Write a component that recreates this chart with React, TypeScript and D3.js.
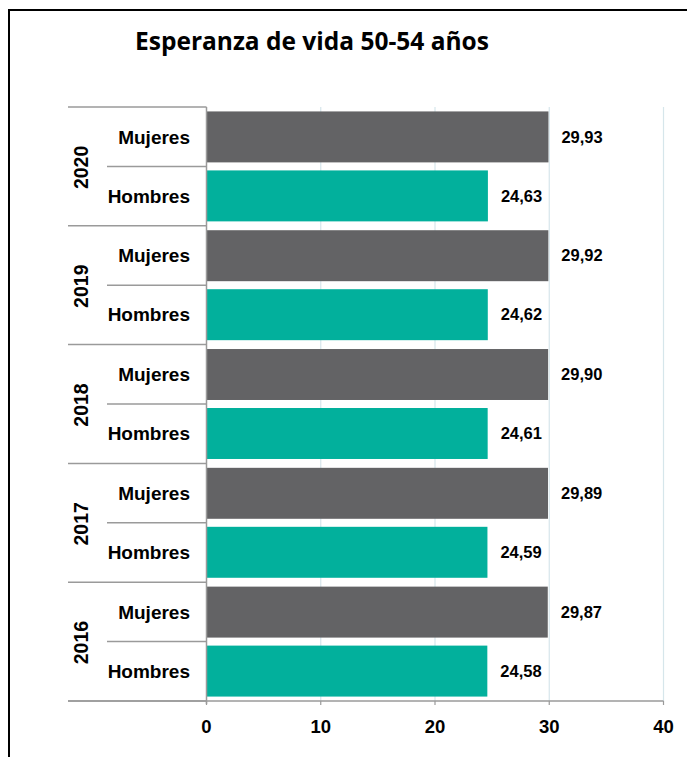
import { useRef, useEffect } from 'react';
import * as d3 from 'd3';

const years = ['2020', '2019', '2018', '2017', '2016'];
const sexes = ['Mujeres', 'Hombres'];
const mujeres = [29.93, 29.92, 29.9, 29.89, 29.87];
const hombres = [24.63, 24.62, 24.61, 24.59, 24.58];
const ticks = [0, 10, 20, 30, 40];

const colors: Record<string, string> = { Mujeres: '#636365', Hombres: '#02b09c' };

export default function App() {
  const svgRef = useRef<SVGSVGElement>(null);

  useEffect(() => {
    const w = 687;
    const h = 757;
    const svg = d3.select(svgRef.current).attr('width', w).attr('height', h);
    svg.selectAll('*').remove();

    const font = "'Liberation Sans', Arial, sans-serif";

    // frame (only top and left edges are inside the picture)
    svg
      .append('path')
      .attr('d', `M9,${h + 5} V10 H${w + 5}`)
      .attr('fill', 'none')
      .attr('stroke', '#000')
      .attr('stroke-width', 2);

    svg
      .append('text')
      .attr('x', 312)
      .attr('y', 50)
      .attr('text-anchor', 'middle')
      .style('font-family', "'Open Sans', sans-serif")
      .style('font-weight', 700)
      .style('font-size', '24.5px')
      .text('Esperanza de vida 50-54 años');

    // scales
    const x = d3.scaleLinear().domain([0, 40]).range([206.5, 663.5]);
    const yGroup = d3.scaleBand().domain(years).range([107, 701]);
    const ySub = d3
      .scaleBand()
      .domain(sexes)
      .range([0, yGroup.bandwidth()])
      .paddingInner(0.136)
      .paddingOuter(0.075);

    // gridlines
    svg
      .append('g')
      .selectAll('line')
      .data(ticks.slice(1))
      .enter()
      .append('line')
      .attr('x1', (d) => x(d))
      .attr('x2', (d) => x(d))
      .attr('y1', 107)
      .attr('y2', 701)
      .attr('stroke', '#d6e6eb')
      .attr('stroke-width', 1.2);

    const rows = years.flatMap((yr, i) => [
      { year: yr, sex: 'Mujeres', value: mujeres[i] },
      { year: yr, sex: 'Hombres', value: hombres[i] },
    ]);

    // bars
    svg
      .append('g')
      .selectAll('rect')
      .data(rows)
      .enter()
      .append('rect')
      .attr('x', x(0))
      .attr('y', (d) => yGroup(d.year)! + ySub(d.sex)!)
      .attr('width', (d) => x(d.value) - x(0))
      .attr('height', ySub.bandwidth())
      .attr('fill', (d) => colors[d.sex]);

    // value labels
    svg
      .append('g')
      .selectAll('text')
      .data(rows)
      .enter()
      .append('text')
      .attr('x', (d) => x(d.value) + 13)
      .attr('y', (d) => yGroup(d.year)! + ySub(d.sex)! + ySub.bandwidth() / 2)
      .attr('dy', '0.35em')
      .style('font-family', font)
      .style('font-weight', 700)
      .style('font-size', '16.5px')
      .text((d) => d.value.toFixed(2).replace('.', ','));

    // category axis: separators and labels
    const axisColor = '#9a9a9a';
    const cat = svg.append('g');
    const bounds = years.map((yr) => yGroup(yr)!).concat([701]);
    cat
      .selectAll('line.group')
      .data(bounds)
      .enter()
      .append('line')
      .attr('x1', 68)
      .attr('x2', x(0))
      .attr('y1', (d) => d)
      .attr('y2', (d) => d)
      .attr('stroke', axisColor)
      .attr('stroke-width', 1.5);
    cat
      .selectAll('line.sub')
      .data(years)
      .enter()
      .append('line')
      .attr('x1', 107)
      .attr('x2', x(0))
      .attr('y1', (d) => yGroup(d)! + yGroup.bandwidth() / 2)
      .attr('y2', (d) => yGroup(d)! + yGroup.bandwidth() / 2)
      .attr('stroke', axisColor)
      .attr('stroke-width', 1.5);
    cat
      .append('line')
      .attr('x1', x(0))
      .attr('x2', x(0))
      .attr('y1', 107)
      .attr('y2', 704)
      .attr('stroke', axisColor)
      .attr('stroke-width', 1.5);

    cat
      .selectAll('text.sex')
      .data(rows)
      .enter()
      .append('text')
      .attr('x', 190)
      .attr('y', (d) => yGroup(d.year)! + ySub(d.sex)! + ySub.bandwidth() / 2)
      .attr('dy', '0.35em')
      .attr('text-anchor', 'end')
      .style('font-family', font)
      .style('font-weight', 700)
      .style('font-size', '19px')
      .text((d) => d.sex);

    cat
      .selectAll('text.year')
      .data(years)
      .enter()
      .append('text')
      .attr(
        'transform',
        (d) => `translate(81, ${yGroup(d)! + yGroup.bandwidth() / 2 + 1}) rotate(-90)`
      )
      .attr('dy', '0.35em')
      .attr('text-anchor', 'middle')
      .style('font-family', font)
      .style('font-weight', 700)
      .style('font-size', '19.5px')
      .text((d) => d);

    // value axis
    const xAxis = svg.append('g');
    xAxis
      .append('line')
      .attr('x1', 68)
      .attr('x2', x(40))
      .attr('y1', 701)
      .attr('y2', 701)
      .attr('stroke', axisColor)
      .attr('stroke-width', 1.5);
    xAxis
      .selectAll('line.tick')
      .data(ticks)
      .enter()
      .append('line')
      .attr('x1', (d) => x(d))
      .attr('x2', (d) => x(d))
      .attr('y1', 701)
      .attr('y2', 705)
      .attr('stroke', axisColor)
      .attr('stroke-width', 1.2);
    xAxis
      .selectAll('text')
      .data(ticks)
      .enter()
      .append('text')
      .attr('x', (d) => x(d))
      .attr('y', 733)
      .attr('text-anchor', 'middle')
      .style('font-family', font)
      .style('font-weight', 700)
      .style('font-size', '18.5px')
      .text((d) => d);
  }, []);

  return (
    <svg
      ref={svgRef}
      style={{ position: 'absolute', left: 0, top: 0, display: 'block', background: '#fff' }}
    ></svg>
  );
}
